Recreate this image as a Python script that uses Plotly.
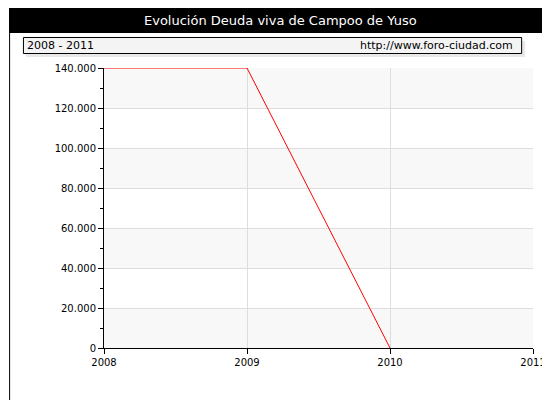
import plotly.graph_objects as go

years = [2008, 2009, 2010]
deuda = [140000, 140000, 0]
xticks = [2008, 2009, 2010, 2011]
yticks = [0, 20000, 40000, 60000, 80000, 100000, 120000, 140000]
ylabels = ["0", "20.000", "40.000", "60.000", "80.000", "100.000", "120.000", "140.000"]

W, H = 550, 400
L, R, T, B = 96, 20, 60, 60
PW, PH = W - L - R, H - T - B
fig = go.Figure()
fig.add_trace(go.Scatter(x=years, y=deuda, mode="lines", line=dict(color="red", width=1), hoverinfo="skip"))

shapes = []
for lo in [0, 40000, 80000, 120000]:
    shapes.append(dict(type="rect", xref="x", yref="y", x0=2008, x1=2011, y0=lo, y1=lo + 20000,
                       fillcolor="#f8f8f8", line=dict(width=0), layer="below"))
def px(x): return (x - L) / PW
def py(y): return (H - B - y) / PH
shapes.append(dict(type="rect", xref="paper", yref="paper", x0=px(0.5), x1=px(549.5), y0=py(399.5), y1=py(0.5),
                   line=dict(color="black", width=1)))
shapes.append(dict(type="rect", xref="paper", yref="paper", x0=px(0), x1=px(550), y0=py(25), y1=py(0),
                   fillcolor="black", line=dict(width=0)))
shapes.append(dict(type="rect", xref="paper", yref="paper", x0=px(17), x1=px(522), y0=py(49), y1=py(33),
                   fillcolor="#e8e8e8", line=dict(width=0)))
shapes.append(dict(type="rect", xref="paper", yref="paper", x0=px(14.5), x1=px(518.5), y0=py(45.5), y1=py(29.5),
                   fillcolor="#f4f4f4", line=dict(color="black", width=1)))

ann = [
    dict(text="Evolución Deuda viva de Campoo de Yuso", xref="paper", yref="paper", x=px(275), y=py(12.5),
         showarrow=False, font=dict(color="white", size=13, family="DejaVu Sans"), xanchor="center", yanchor="middle"),
    dict(text="2008 - 2011", xref="paper", yref="paper", x=px(16), y=py(37.5), showarrow=False,
         font=dict(size=11, family="DejaVu Sans", color="black"), xanchor="left", yanchor="middle"),
    dict(text="http://www.foro-ciudad.com", xref="paper", yref="paper", x=px(512), y=py(37.5), showarrow=False,
         font=dict(size=11, family="DejaVu Sans", color="black"), xanchor="right", yanchor="middle"),
]

fig.update_layout(
    width=W, height=H, margin=dict(l=L, r=R, t=T, b=B), paper_bgcolor="white", plot_bgcolor="white",
    showlegend=False, shapes=shapes, annotations=ann,
    font=dict(family="DejaVu Sans", size=10, color="black"),
    xaxis=dict(range=[2008, 2011], tickvals=xticks, ticktext=[str(v) for v in xticks], showgrid=True,
               gridcolor="#dddddd", ticks="outside", ticklen=5, tickcolor="black", showline=True,
               linecolor="black", zeroline=False, fixedrange=True),
    yaxis=dict(range=[0, 140000], tickvals=yticks, ticktext=ylabels, showgrid=True, gridcolor="#dddddd",
               ticks="outside", ticklen=5, tickcolor="black", showline=True, linecolor="black",
               zeroline=False, fixedrange=True, minor=dict(ticks="outside", ticklen=3, dtick=10000, tickcolor="black")),
)
fig.write_html("out.html", config={"displayModeBar": False})
